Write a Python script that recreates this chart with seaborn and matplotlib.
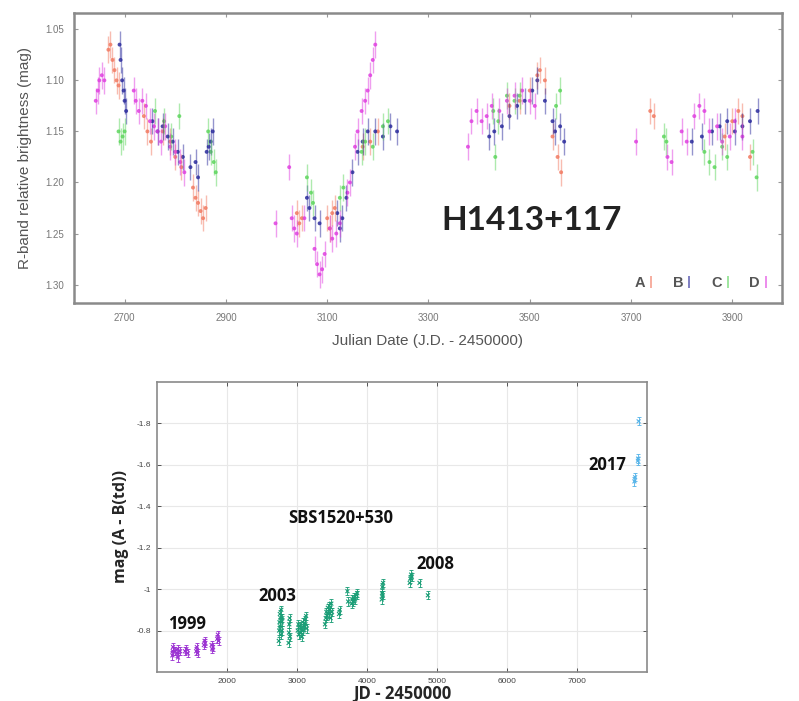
import numpy as np
import pandas as pd
import matplotlib.pyplot as plt
from matplotlib.lines import Line2D
import seaborn as sns

# ---------------- top panel: H1413+117, images A-D ----------------
a_jd = [2668, 2672, 2676, 2680, 2684, 2688, 2738, 2745, 2752, 2775, 2790, 2800, 2812,
        2835, 2840, 2845, 2850, 2855, 2860,
        3040, 3045, 3050, 3100, 3105, 3110, 3115, 3170, 3185, 3200,
        3460, 3480, 3500, 3515, 3520, 3530, 3545, 3555, 3562,
        3738, 3745, 3885, 3900, 3912, 3920, 3935]
a_mag = [1.070, 1.065, 1.080, 1.090, 1.100, 1.105, 1.135, 1.150, 1.160, 1.150, 1.160, 1.175, 1.185,
         1.205, 1.215, 1.220, 1.228, 1.235, 1.225,
         1.230, 1.240, 1.235, 1.235, 1.245, 1.230, 1.225, 1.165, 1.160, 1.150,
         1.125, 1.120, 1.110, 1.095, 1.090, 1.100, 1.155, 1.175, 1.190,
         1.130, 1.135, 1.155, 1.140, 1.130, 1.135, 1.175]

b_jd = [2690, 2692, 2695, 2698, 2700, 2703, 2755, 2765, 2775, 2785, 2795, 2805, 2815,
        2830, 2840, 2845, 2862, 2866, 2870, 2874,
        3060, 3065, 3075, 3085, 3120, 3125, 3130, 3138, 3150, 3160, 3170, 3180, 3195, 3210, 3225, 3238,
        3420, 3430, 3445, 3460, 3475, 3490, 3505, 3515, 3530, 3545, 3550, 3560, 3568,
        3820, 3840, 3860, 3875, 3890, 3905, 3920, 3935, 3950]
b_mag = [1.065, 1.080, 1.100, 1.110, 1.120, 1.130, 1.140, 1.150, 1.145, 1.155, 1.160, 1.170, 1.175,
         1.185, 1.180, 1.195, 1.170, 1.165, 1.160, 1.150,
         1.215, 1.225, 1.235, 1.240, 1.230, 1.245, 1.235, 1.215, 1.190, 1.170, 1.160, 1.150, 1.150, 1.155, 1.145, 1.150,
         1.155, 1.150, 1.145, 1.135, 1.125, 1.120, 1.110, 1.100, 1.120, 1.140, 1.150, 1.145, 1.160,
         1.160, 1.155, 1.150, 1.145, 1.140, 1.150, 1.145, 1.140, 1.130]

c_jd = [2688, 2692, 2696, 2700, 2760, 2778, 2792, 2808, 2865, 2870, 2876, 2880,
        3060, 3068, 3072, 3125, 3132, 3168, 3175, 3190, 3210, 3220,
        3428, 3432, 3438, 3455, 3470, 3480, 3552, 3560,
        3765, 3770, 3845, 3855, 3865, 3880, 3890, 3940, 3948]
c_mag = [1.150, 1.160, 1.155, 1.150, 1.130, 1.140, 1.155, 1.135, 1.150, 1.170, 1.180, 1.190,
         1.195, 1.210, 1.220, 1.215, 1.205, 1.170, 1.160, 1.165, 1.145, 1.140,
         1.130, 1.175, 1.140, 1.115, 1.120, 1.115, 1.125, 1.110,
         1.155, 1.160, 1.170, 1.180, 1.185, 1.165, 1.175, 1.170, 1.195]

d_jd = [2643, 2647, 2650, 2655, 2660, 2718, 2722, 2728, 2735, 2742, 2750, 2758, 2765, 2772,
        2780, 2790, 2800, 2810, 2818,
        2998, 3025, 3030, 3035, 3040, 3055, 3075, 3080, 3085, 3090, 3095, 3105, 3110, 3118, 3125,
        3140, 3145, 3155, 3160, 3168, 3175, 3180, 3185, 3190, 3195,
        3378, 3385, 3395, 3405, 3415, 3425, 3440, 3455, 3470, 3485, 3500, 3510,
        3710, 3772, 3780, 3800, 3810, 3825, 3835, 3845, 3855, 3870, 3880, 3895, 3905, 3920]
d_mag = [1.120, 1.110, 1.100, 1.095, 1.100, 1.110, 1.120, 1.130, 1.120, 1.125, 1.140, 1.145, 1.150, 1.160,
         1.145, 1.165, 1.170, 1.180, 1.190,
         1.240, 1.185, 1.235, 1.245, 1.250, 1.235, 1.265, 1.280, 1.290, 1.285, 1.270, 1.245, 1.255, 1.250, 1.240,
         1.210, 1.200, 1.165, 1.150, 1.130, 1.120, 1.110, 1.095, 1.080, 1.065,
         1.165, 1.140, 1.130, 1.140, 1.135, 1.125, 1.130, 1.120, 1.115, 1.110, 1.120, 1.125,
         1.160, 1.175, 1.180, 1.150, 1.160, 1.135, 1.125, 1.130, 1.150, 1.145, 1.160, 1.155, 1.140, 1.155]

top_err = 0.013
top_colors = {'A': '#f27a62', 'B': '#2b2b9c', 'C': '#5ed65e', 'D': '#e03fe0'}
top_xticks = [2700, 2900, 3100, 3300, 3500, 3700, 3900]
top_yticks = [1.05, 1.10, 1.15, 1.20, 1.25, 1.30]

# ---------------- bottom panel: SBS1520+530 ----------------
p_jd = [1220, 1225, 1230, 1260, 1290, 1295, 1300, 1330, 1400, 1420, 1440, 1560, 1570, 1580,
        1670, 1680, 1690, 1780, 1790, 1800, 1860, 1870, 1880]
p_mag = [-0.68, -0.70, -0.72, -0.70, -0.69, -0.71, -0.67, -0.70, -0.70, -0.71, -0.69, -0.70, -0.72, -0.69,
         -0.73, -0.75, -0.74, -0.73, -0.71, -0.72, -0.76, -0.78, -0.75]

g_jd = [2740, 2745, 2750, 2755, 2760, 2765, 2770, 2775, 2780, 2785, 2790,
        2880, 2885, 2890, 2895, 2900,
        3010, 3020, 3030, 3040, 3050, 3060, 3070, 3080, 3090, 3100, 3110, 3120, 3130, 3140,
        3400, 3410, 3420, 3430, 3440, 3450, 3460, 3470, 3480, 3490, 3500,
        3600, 3610, 3720, 3730, 3780, 3790, 3800, 3810, 3830, 3850, 3860,
        4210, 4215, 4220, 4225, 4230, 4610, 4620, 4630, 4640, 4750, 4870]
g_mag = [-0.75, -0.80, -0.84, -0.88, -0.82, -0.86, -0.78, -0.90, -0.84, -0.80, -0.86,
         -0.74, -0.79, -0.83, -0.86, -0.77,
         -0.80, -0.83, -0.78, -0.82, -0.79, -0.81, -0.77, -0.84, -0.80, -0.82, -0.85, -0.83, -0.87, -0.81,
         -0.83, -0.86, -0.89, -0.87, -0.91, -0.88, -0.92, -0.90, -0.86, -0.93, -0.89,
         -0.88, -0.90, -0.99, -0.94, -0.93, -0.95, -0.94, -0.96, -0.95, -0.97, -0.98,
         -0.95, -0.98, -1.01, -0.97, -1.03, -1.03, -1.05, -1.07, -1.06, -1.03, -0.97]

s_jd = [7820, 7830, 7870, 7875, 7880]
s_mag = [-1.52, -1.54, -1.62, -1.63, -1.81]

bot_err = 0.02
bot_colors = {'1999': '#9b32d2', '2003-2008': '#1b9e77', '2017': '#56b4e9'}
bot_xticks = [2000, 3000, 4000, 5000, 6000, 7000]
bot_yticks = [-1.8, -1.6, -1.4, -1.2, -1.0, -0.8]
bot_yticklabels = ['-1.8', '-1.6', '-1.4', '-1.2', '-1', '-0.8']

# ------------------------------------------------------------------
sns.set_theme(style="ticks")
plt.rcParams['font.family'] = ['Liberation Sans', 'DejaVu Sans']

fig = plt.figure(figsize=(7.99, 7.01), dpi=100)
ax1 = fig.add_axes([0.0926, 0.5678, 0.886, 0.4137])
ax2 = fig.add_axes([0.1965, 0.0414, 0.6133, 0.4137])

top = pd.concat([
    pd.DataFrame({'jd': a_jd, 'mag': a_mag, 'image': 'A'}),
    pd.DataFrame({'jd': b_jd, 'mag': b_mag, 'image': 'B'}),
    pd.DataFrame({'jd': c_jd, 'mag': c_mag, 'image': 'C'}),
    pd.DataFrame({'jd': d_jd, 'mag': d_mag, 'image': 'D'}),
], ignore_index=True)

for img, sub in top.groupby('image'):
    ax1.errorbar(sub['jd'], sub['mag'], yerr=top_err, fmt='none',
                 ecolor=top_colors[img], elinewidth=1.0, alpha=0.5)
sns.scatterplot(data=top, x='jd', y='mag', hue='image', palette=top_colors,
                s=8, linewidth=0, alpha=0.85, legend=False, ax=ax1)

ax1.set_xlim(2600, 3998)
ax1.set_ylim(1.318, 1.034)
ax1.set_xticks(top_xticks)
ax1.set_yticks(top_yticks)
ax1.set_yticklabels([f'{v:.2f}' for v in top_yticks])
ax1.tick_params(direction='in', top=True, right=True, length=3, width=0.8,
                color='#999999', labelsize=7, labelcolor='#777777', pad=7)
for sp in ax1.spines.values():
    sp.set_color('#8a8a8a')
    sp.set_linewidth(1.8)
ax1.set_xlabel('Julian Date (J.D. - 2450000)', fontsize=11, color='#555555', labelpad=8)
ax1.set_ylabel('R-band relative brightness (mag)', fontsize=11, color='#555555', labelpad=10)
ax1.text(3504, 1.237, 'H1413+117', fontsize=24, fontweight='bold', color='#222222',
         ha='center', va='center', family=['Lato', 'DejaVu Sans'])

handles = [Line2D([], [], marker='|', linestyle='none', color=top_colors[k],
                  markersize=9, markeredgewidth=1.2, alpha=0.7) for k in top_colors]
ax1.legend(handles, list(top_colors), loc='lower right', ncol=4, frameon=False,
           markerfirst=False, handlelength=0.4, handletextpad=0.2, columnspacing=1.3,
           prop={'size': 10.5, 'weight': 'bold'}, labelcolor='#555555',
           bbox_to_anchor=(1.0, 0.0))

bot = pd.concat([
    pd.DataFrame({'jd': p_jd, 'mag': p_mag, 'epoch': '1999'}),
    pd.DataFrame({'jd': g_jd, 'mag': g_mag, 'epoch': '2003-2008'}),
    pd.DataFrame({'jd': s_jd, 'mag': s_mag, 'epoch': '2017'}),
], ignore_index=True)

ax2.grid(True, color='#e8e8e8', linewidth=0.8)
ax2.set_axisbelow(True)
for ep, sub in bot.groupby('epoch'):
    ax2.errorbar(sub['jd'], sub['mag'], yerr=bot_err, fmt='none', ecolor=bot_colors[ep],
                 elinewidth=0.7, capsize=1.5, capthick=0.7, alpha=0.9)
sns.scatterplot(data=bot, x='jd', y='mag', hue='epoch', palette=bot_colors,
                marker='x', s=8, linewidth=0.8, legend=False, ax=ax2)

ax2.set_xlim(1000, 8000)
ax2.set_ylim(-0.6, -2.0)
ax2.set_xticks(bot_xticks)
ax2.set_yticks(bot_yticks)
ax2.set_yticklabels(bot_yticklabels)
ax2.tick_params(direction='in', top=True, right=True, length=3, width=0.7,
                color='#555555', labelsize=6, labelcolor='#444444', pad=4)
for sp in ax2.spines.values():
    sp.set_color('#8a8a8a')
    sp.set_linewidth(1.2)
ax2.set_xlabel('JD - 2450000', fontsize=12, fontweight='bold',
               family=['Open Sans', 'DejaVu Sans'], labelpad=0)
ax2.set_ylabel('mag (A - B(td))', fontsize=11.5, fontweight='bold',
               family=['Open Sans', 'DejaVu Sans'], labelpad=6)

lab = dict(fontsize=12, fontweight='bold', color='#111111', ha='center', va='center',
           family=['Open Sans', 'DejaVu Sans'])
ax2.text(1429, -0.834, '1999', **lab)
ax2.text(2714, -0.967, '2003', **lab)
ax2.text(3629, -1.344, 'SBS1520+530', **lab)
ax2.text(4971, -1.123, '2008', **lab)
ax2.text(7429, -1.600, '2017', **lab)

fig.savefig('out.png', dpi=100)
